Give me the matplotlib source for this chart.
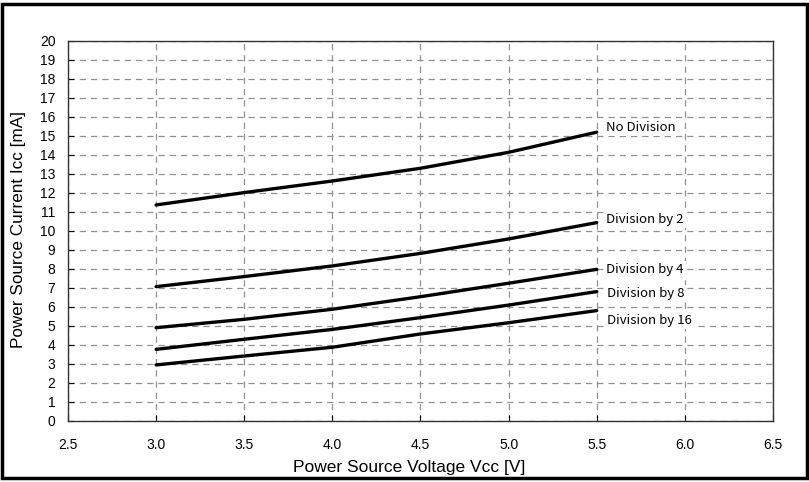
import matplotlib
matplotlib.use("Agg")
import matplotlib.pyplot as plt
from matplotlib.patches import Rectangle

# supply voltage [V]
voltage = [3.0, 3.5, 4.0, 4.5, 5.0, 5.5]

# supply current [mA] for each divider setting
no_division = [11.37, 12.02, 12.63, 13.3, 14.14, 15.2]
division_2 = [7.07, 7.6, 8.16, 8.82, 9.58, 10.44]
division_4 = [4.91, 5.35, 5.88, 6.54, 7.25, 7.98]
division_8 = [3.77, 4.3, 4.82, 5.44, 6.1, 6.81]
division_16 = [2.95, 3.42, 3.88, 4.58, 5.17, 5.81]

series = [no_division, division_2, division_4, division_8, division_16]
labels = ["No Division", "Division by 2", "Division by 4", "Division by 8", "Division by 16"]
label_y = [15.45, 10.6, 7.95, 6.7, 5.3]
label_x = [5.555, 5.555, 5.555, 5.56, 5.56]

x_ticks = [2.5, 3.0, 3.5, 4.0, 4.5, 5.0, 5.5, 6.0, 6.5]
y_ticks = list(range(0, 21))

plt.rcParams["font.family"] = ["Liberation Sans", "DejaVu Sans"]

fig = plt.figure(figsize=(8.09, 4.82), dpi=100)
ax = fig.add_axes([0.084, 0.1266, 0.8715, 0.7884])

for vals in series:
    ax.plot(voltage, vals, color="black", linewidth=2.4, solid_capstyle="round", zorder=3)

for name, lx, ly in zip(labels, label_x, label_y):
    ax.text(lx, ly, name, fontsize=9.5, va="center", ha="left",
            family=["Noto Sans CJK JP", "DejaVu Sans"],
            bbox=dict(facecolor="white", edgecolor="none", pad=1.5), zorder=4)

ax.set_xlim(2.5, 6.5)
ax.set_ylim(0, 20)
ax.set_xticks(x_ticks)
ax.set_xticklabels([f"{v:.1f}" for v in x_ticks])
ax.set_yticks(y_ticks)
ax.tick_params(direction="in", length=4, width=0.8, labelsize=10, colors="black", pad=9)
ax.tick_params(axis="x", pad=12)

ax.grid(True, color="#909090", linestyle=(0, (5, 4)), linewidth=0.9, zorder=0)
for s in ax.spines.values():
    s.set_color("#333333")
    s.set_linewidth(1.0)

ax.set_xlabel("Power Source Voltage Vcc [V]", fontsize=12.5)
ax.set_ylabel("Power Source Current Icc [mA]", fontsize=12.3)
ax.xaxis.set_label_coords(0.484, -0.102)
ax.yaxis.set_label_coords(-0.06, 0.505)

# outer frame
fig.patches.append(Rectangle((0.003, 0.008), 0.994, 0.983, transform=fig.transFigure,
                             fill=False, edgecolor="black", linewidth=2.5))

fig.savefig("out.png", dpi=100)
